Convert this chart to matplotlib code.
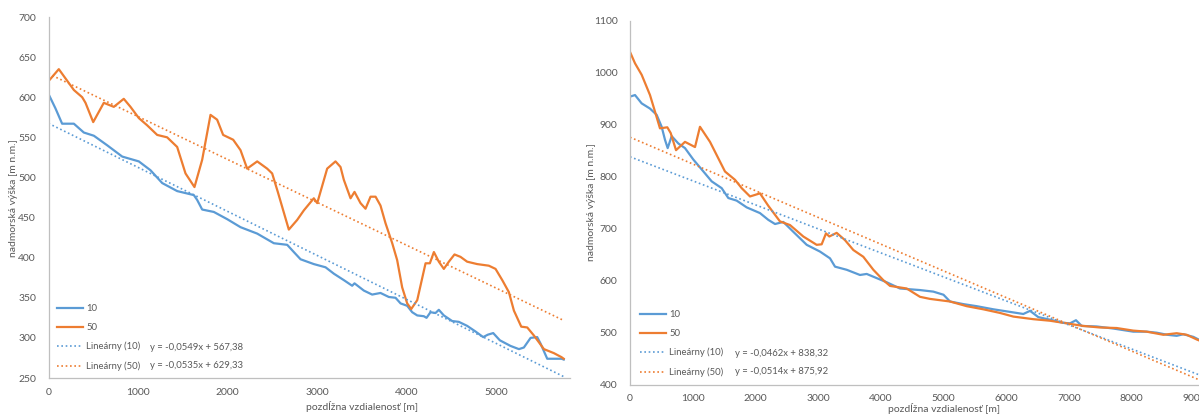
import numpy as np
import matplotlib
matplotlib.use('Agg')
import matplotlib.pyplot as plt

plt.rcParams['font.family'] = ['Lato', 'DejaVu Sans']

# left chart: profile 1
dist10_a = [0, 78, 152, 283, 394, 506, 656, 823, 1008, 1138, 1269, 1436, 1622, 1659, 1715, 1845, 1994,
            2143, 2329, 2515, 2664, 2738, 2813, 2961, 3092, 3185, 3296, 3389, 3415, 3519, 3612, 3705,
            3798, 3873, 3929, 4003, 4059, 4115, 4189, 4219, 4263, 4319, 4356, 4412, 4505, 4579, 4672,
            4765, 4851, 4903, 4963, 5037, 5156, 5250, 5305, 5380, 5454, 5491, 5566, 5725, 5750]
elev10_a = [604, 586, 567, 567, 556, 552, 540, 526, 520, 509, 493, 483, 478, 472, 460, 457, 448,
            438, 430, 418, 416, 407, 398, 392, 388, 380, 372, 365, 368, 359, 354, 356,
            351, 350, 343, 340, 332, 328, 327, 325, 332, 331, 335, 328, 321, 320, 315,
            308, 301, 304, 306, 297, 290, 286, 288, 300, 301, 293, 274, 274, 273]
dist50_a = [0, 115, 283, 376, 413, 499, 617, 729, 840, 915, 1008, 1101, 1213, 1324, 1436, 1529, 1629,
            1715, 1808, 1882, 1949, 2061, 2143, 2217, 2329, 2440, 2496, 2559, 2682, 2775, 2850, 2961,
            2999, 3110, 3203, 3259, 3296, 3371, 3415, 3482, 3538, 3594, 3650, 3705, 3761, 3836, 3891,
            3947, 4003, 4048, 4115, 4208, 4256, 4301, 4356, 4412, 4468, 4531, 4598, 4672, 4784, 4914,
            4989, 5064, 5138, 5194, 5276, 5343, 5417, 5529, 5640, 5725, 5750]
elev50_a = [620, 635, 609, 600, 593, 569, 593, 588, 598, 588, 574, 565, 553, 550, 538, 505, 488,
            522, 578, 572, 553, 547, 534, 511, 520, 511, 505, 482, 435, 447, 459, 474,
            468, 511, 520, 513, 497, 474, 482, 468, 461, 476, 476, 465, 443, 418, 397,
            363, 343, 336, 347, 393, 393, 407, 395, 386, 395, 404, 401, 395, 392, 390,
            386, 372, 357, 334, 314, 313, 303, 286, 281, 276, 274]
trend_a = [(-0.0549, 567.38), (-0.0535, 629.33)]
eq_a = ['y = -0,0549x + 567,38', 'y = -0,0535x + 629,33']

# right chart: profile 2
dist10_b = [0, 80, 186, 319, 425, 505, 558, 601, 665, 770, 877, 1010, 1143, 1303, 1462, 1568, 1701,
            1861, 2073, 2206, 2313, 2445, 2605, 2818, 3030, 3190, 3270, 3456, 3668, 3775, 3934, 4094,
            4306, 4519, 4625, 4838, 5000, 5104, 5316, 5529, 5795, 6061, 6273, 6380, 6512, 6699, 6911,
            7018, 7113, 7204, 7443, 7709, 8027, 8240, 8400, 8567, 8719, 8825, 8985, 9100]
elev10_b = [954, 957, 941, 931, 919, 896, 871, 855, 878, 864, 855, 833, 814, 791, 778, 759, 754,
            741, 730, 717, 709, 713, 694, 669, 656, 643, 627, 621, 611, 613, 605, 597,
            585, 583, 582, 579, 573, 560, 555, 551, 545, 540, 536, 542, 530, 525, 519,
            518, 524, 513, 512, 508, 502, 502, 500, 496, 494, 497, 492, 485]
dist50_b = [0, 80, 186, 319, 399, 478, 595, 649, 734, 877, 1037, 1116, 1276, 1515, 1675, 1781, 1914,
            1994, 2073, 2206, 2392, 2552, 2764, 2977, 3057, 3126, 3179, 3296, 3429, 3562, 3721, 3881,
            4040, 4147, 4413, 4625, 4785, 5104, 5370, 5635, 5901, 6114, 6433, 6699, 6965, 7230, 7496,
            7762, 8027, 8240, 8506, 8719, 8879, 9038, 9100]
elev50_b = [1040, 1018, 996, 957, 925, 893, 895, 884, 851, 867, 857, 896, 867, 810, 794, 778, 762,
            765, 768, 744, 714, 707, 685, 669, 670, 691, 685, 692, 678, 659, 646, 621,
            601, 590, 585, 569, 565, 560, 551, 545, 538, 531, 526, 523, 518, 513, 510,
            509, 504, 502, 496, 499, 496, 487, 484]
trend_b = [(-0.0462, 838.32), (-0.0514, 875.92)]
eq_b = ['y = -0,0462x + 838,32', 'y = -0,0514x + 875,92']

series_names = ['10', '50']
trend_names = ['Lineárny (10)', 'Lineárny (50)']
blue = '#5B9BD5'
orange = '#ED7D31'
txt = '#595959'
W, H = 1199.0, 417.0

fig = plt.figure(figsize=(11.99, 4.17), dpi=100)


def px(x0, y0, x1, y1):
    # pixel box -> figure fraction
    return [x0 / W, 1 - y1 / H, (x1 - x0) / W, (y1 - y0) / H]


def draw(ax, d10, e10, d50, e50, trends, eqs, xmax, ylim, ystep, leg_xy, eq_xy):
    ax.plot(d10, e10, color=blue, lw=1.6, label=series_names[0], solid_joinstyle='round')
    ax.plot(d50, e50, color=orange, lw=1.6, label=series_names[1], solid_joinstyle='round')
    for (k, q), d, c, name in zip(trends, [d10, d50], [blue, orange], trend_names):
        xs = np.array([min(d), max(d)])
        ax.plot(xs, k * xs + q, color=c, lw=1.2, ls=(0, (1, 1.6)), label=name)
    ax.set_xlim(0, xmax)
    ax.set_ylim(*ylim)
    ax.set_xticks(np.arange(0, xmax + 1, 1000))
    ax.set_yticks(np.arange(ylim[0], ylim[1] + 1, ystep))
    ax.tick_params(length=0, labelsize=7.5, labelcolor=txt)
    ax.tick_params(axis='y', pad=9)
    ax.tick_params(axis='x', pad=7)
    for s in ['top', 'right']:
        ax.spines[s].set_visible(False)
    for s in ['left', 'bottom']:
        ax.spines[s].set_color('#BFBFBF')
        ax.spines[s].set_linewidth(0.9)
    ax.legend(loc='upper left', bbox_to_anchor=(leg_xy[0] / W, 1 - leg_xy[1] / H),
              bbox_transform=fig.transFigure, frameon=False, fontsize=6.8,
              labelcolor=txt, handlelength=2.8, handletextpad=0.3,
              labelspacing=1.05, borderpad=0, borderaxespad=0)
    for i, e in enumerate(eqs):
        fig.text(eq_xy[0] / W, 1 - eq_xy[1][i] / H, e, fontsize=6.8, color=txt,
                 ha='left', va='center')


ax1 = fig.add_axes(px(48.5, 17, 570, 378))
draw(ax1, dist10_a, elev10_a, dist50_a, elev50_a, trend_a, eq_a, 5820, (250, 700), 50,
     (57, 304), (150, [347, 365]))
ax2 = fig.add_axes(px(630, 20.7, 1257, 384.7))
draw(ax2, dist10_b, elev10_b, dist50_b, elev50_b, trend_b, eq_b, 10000, (400, 1100), 100,
     (640, 310), (735, [353, 372]))

ylab = 'nadmorská výška [m n.m.]'
xlab = 'pozdĺžna vzdialenosť [m]'
fig.text(13.5 / W, 1 - 198 / H, ylab, rotation=90, ha='center', va='center', fontsize=7.5, color=txt)
fig.text(592 / W, 1 - 202 / H, ylab, rotation=90, ha='center', va='center', fontsize=7.5, color=txt)
fig.text(362 / W, 1 - 407 / H, xlab, ha='center', va='center', fontsize=7.5, color=txt)
fig.text(944 / W, 1 - 409 / H, xlab, ha='center', va='center', fontsize=7.5, color=txt)

fig.savefig('out.png', dpi=100)
